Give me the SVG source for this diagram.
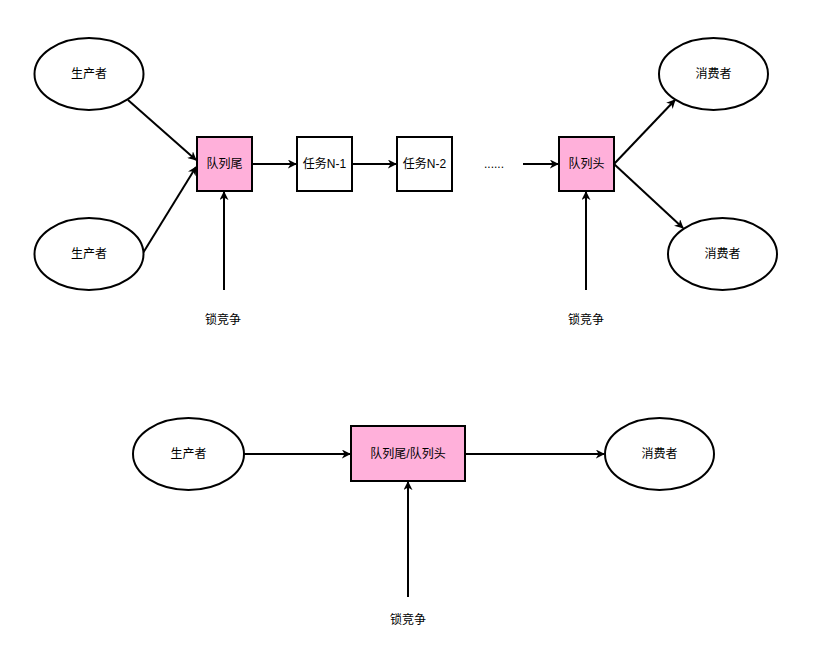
<svg xmlns="http://www.w3.org/2000/svg" width="835" height="656" viewBox="0 0 835 656">
<style>
.node{fill:#fff;stroke:#000;stroke-width:2}
.q{fill:#ffb0da;stroke:#000;stroke-width:2}
.edge{stroke:#000;stroke-width:2;fill:none;marker-end:url(#ah)}
text{font-family:"Liberation Sans","Noto Sans CJK SC",sans-serif;font-size:12px;fill:#000;text-anchor:middle;dominant-baseline:central}
</style>
<defs>
<marker id="ah" viewBox="0 0 10 10" refX="9" refY="5" markerWidth="9" markerHeight="9" markerUnits="userSpaceOnUse" orient="auto">
<path d="M0,0 L10,5 L0,10 L3,5 Z" fill="#000"/>
</marker>
</defs>
<rect width="835" height="656" fill="#fff"/>
<g id="connectors">
<line class="edge" x1="128" y1="100" x2="196" y2="160"/>
<line class="edge" x1="143" y1="253" x2="196" y2="167"/>
<line class="edge" x1="224" y1="290" x2="224" y2="192"/>
<line class="edge" x1="252" y1="164" x2="296" y2="164"/>
<line class="edge" x1="352" y1="164" x2="396" y2="164"/>
<line class="edge" x1="523" y1="164" x2="558" y2="164"/>
<line class="edge" x1="614" y1="164" x2="675" y2="100"/>
<line class="edge" x1="614" y1="164" x2="683" y2="228"/>
<line class="edge" x1="586" y1="290" x2="586" y2="192"/>
<line class="edge" x1="244" y1="454" x2="350" y2="454"/>
<line class="edge" x1="465" y1="454" x2="604" y2="454"/>
<line class="edge" x1="408" y1="597" x2="408" y2="482"/>
</g>
<g id="producer1"><ellipse class="node" cx="89" cy="74" rx="54.5" ry="36"/><text x="89" y="74">生产者</text></g>
<g id="producer2"><ellipse class="node" cx="89" cy="254" rx="54.5" ry="36"/><text x="89" y="254">生产者</text></g>
<g id="tail"><rect class="q" x="197" y="137" width="55" height="54"/><text x="224.5" y="164">队列尾</text></g>
<g id="lock1"><text x="223" y="320">锁竞争</text></g>
<g id="taskN1"><rect class="node" x="297" y="137" width="55" height="54"/><text x="324.5" y="164">任务N-1</text></g>
<g id="taskN2"><rect class="node" x="397" y="137" width="55" height="54"/><text x="424.5" y="164">任务N-2</text></g>
<g id="dots"><text x="494" y="164">......</text></g>
<g id="head"><rect class="q" x="559" y="137" width="55" height="54"/><text x="586.5" y="164">队列头</text></g>
<g id="lock2"><text x="586" y="320">锁竞争</text></g>
<g id="consumer1"><ellipse class="node" cx="713.5" cy="74" rx="54.5" ry="36"/><text x="713.5" y="74">消费者</text></g>
<g id="consumer2"><ellipse class="node" cx="722.5" cy="254" rx="54.5" ry="36"/><text x="722.5" y="254">消费者</text></g>
<g id="producer3"><ellipse class="node" cx="188.5" cy="454" rx="55.5" ry="36"/><text x="188.5" y="454">生产者</text></g>
<g id="tailhead"><rect class="q" x="351" y="426" width="114" height="55"/><text x="408" y="454">队列尾/队列头</text></g>
<g id="consumer3"><ellipse class="node" cx="659.5" cy="454" rx="54.5" ry="36"/><text x="659.5" y="454">消费者</text></g>
<g id="lock3"><text x="408" y="620">锁竞争</text></g>
</svg>
